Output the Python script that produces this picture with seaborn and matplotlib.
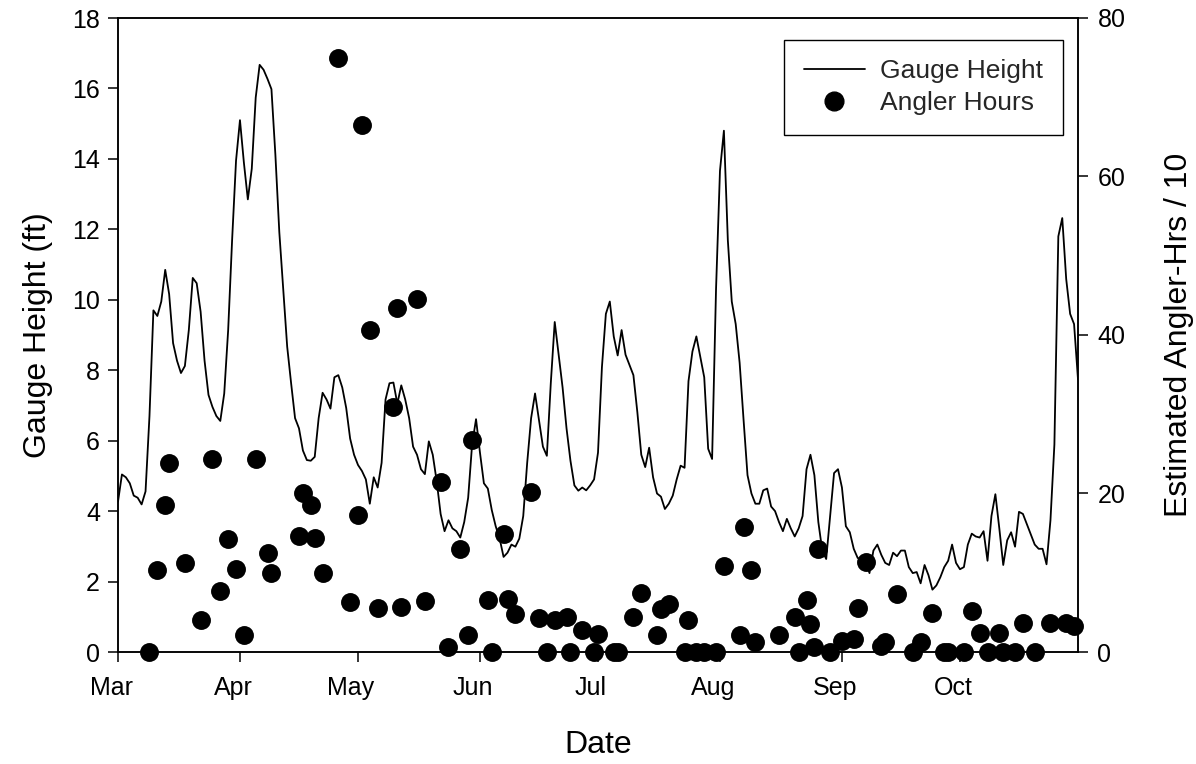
import numpy as np
import pandas as pd
import matplotlib
matplotlib.use("Agg")
import matplotlib.pyplot as plt
import matplotlib.transforms as mtransforms
from matplotlib.lines import Line2D
import seaborn as sns

# Season runs from March 1 through October 31
season_start = pd.Timestamp("2005-03-01")
season_end = pd.Timestamp("2005-10-31")

# Daily mean gauge height (ft), one value per day starting March 1
gauge_height = [
    4.27, 5.04, 4.96, 4.79, 4.44, 4.38, 4.19, 4.56, 6.70, 9.70,
    9.54, 9.95, 10.85, 10.16, 8.77, 8.27, 7.92, 8.12, 9.14, 10.62,
    10.47, 9.66, 8.27, 7.30, 6.96, 6.70, 6.56, 7.34, 9.14, 11.69,
    13.95, 15.10, 13.89, 12.85, 13.72, 15.74, 16.67, 16.53, 16.27, 15.98,
    14.12, 11.92, 10.30, 8.67, 7.63, 6.64, 6.35, 5.72, 5.45, 5.43,
    5.54, 6.64, 7.36, 7.17, 6.91, 7.80, 7.86, 7.51, 6.93, 6.06,
    5.60, 5.31, 5.14, 4.90, 4.21, 4.96, 4.67, 5.37, 7.17, 7.63,
    7.65, 7.05, 7.57, 7.17, 6.64, 5.83, 5.60, 5.19, 5.05, 5.98,
    5.60, 4.85, 3.92, 3.43, 3.74, 3.51, 3.43, 3.25, 3.69, 4.38,
    5.89, 6.61, 5.66, 4.79, 4.64, 4.03, 3.57, 3.22, 2.70, 2.82,
    3.05, 2.99, 3.22, 3.86, 5.37, 6.64, 7.34, 6.59, 5.83, 5.57,
    7.63, 9.37, 8.44, 7.51, 6.35, 5.43, 4.73, 4.58, 4.67, 4.59,
    4.73, 4.90, 5.66, 8.09, 9.60, 9.95, 8.96, 8.42, 9.14, 8.44,
    8.15, 7.86, 6.81, 5.60, 5.25, 5.80, 4.96, 4.50, 4.41, 4.06,
    4.21, 4.44, 4.90, 5.29, 5.23, 7.69, 8.53, 8.96, 8.38, 7.80,
    5.77, 5.48, 10.30, 13.66, 14.80, 11.69, 9.95, 9.31, 8.21, 6.59,
    5.02, 4.50, 4.21, 4.21, 4.59, 4.64, 4.13, 4.00, 3.69, 3.43,
    3.78, 3.51, 3.28, 3.51, 3.86, 5.19, 5.60, 5.02, 3.69, 2.88,
    2.64, 3.86, 5.08, 5.19, 4.67, 3.57, 3.40, 2.93, 2.67, 2.62,
    2.59, 2.24, 2.88, 3.05, 2.76, 2.53, 2.47, 2.82, 2.72, 2.88,
    2.88, 2.41, 2.24, 2.27, 1.95, 2.47, 2.18, 1.77, 1.89, 2.12,
    2.41, 2.59, 3.05, 2.53, 2.35, 2.41, 3.05, 3.36, 3.28, 3.25,
    3.43, 2.59, 3.86, 4.48, 3.51, 2.47, 3.17, 3.40, 2.99, 3.98,
    3.92, 3.63, 3.34, 3.05, 2.93, 2.93, 2.49, 3.74, 5.89, 11.80,
    12.32, 10.59, 9.60, 9.31, 7.74,
]

# Survey days (days after March 1) and estimated angler-hours / 10
angler_day = [
    8, 10, 12, 13, 17, 21, 24, 26, 28, 30,
    32, 35, 38, 39, 46, 47, 49, 50, 52, 56,
    59, 61, 62, 64, 66, 70, 71, 72, 76, 78,
    82, 84, 87, 89, 90, 94, 95, 98, 99, 101,
    105, 107, 109, 111, 114, 115, 118, 121, 122, 126,
    127, 131, 133, 137, 138, 140, 144, 145, 147, 149,
    152, 154, 158, 159, 161, 162, 168, 172, 173, 175,
    176, 177, 178, 181, 184, 187, 188, 190, 194, 195,
    198, 202, 204, 207, 210, 211, 215, 217, 219, 221,
    224, 225, 228, 230, 233, 237, 241, 243,
]
angler_hours = [
    0.0, 10.3, 18.5, 23.8, 11.2, 4.0, 24.4, 7.7, 14.3, 10.5,
    2.2, 24.4, 12.5, 10.0, 14.6, 20.1, 18.5, 14.4, 10.0, 74.9,
    6.3, 17.3, 66.5, 40.6, 5.6, 30.9, 43.4, 5.7, 44.5, 6.4,
    21.5, 0.6, 13.0, 2.2, 26.7, 6.5, 0.0, 14.9, 6.7, 4.8,
    20.2, 4.3, 0.0, 4.1, 4.4, 0.0, 2.8, 0.0, 2.3, 0.0,
    0.0, 4.4, 7.4, 2.1, 5.4, 6.1, 0.0, 4.1, 0.0, 0.0,
    0.0, 10.9, 2.2, 15.8, 10.3, 1.3, 2.2, 4.4, 0.0, 6.6,
    3.5, 0.6, 13.0, 0.0, 1.4, 1.6, 5.5, 11.3, 0.8, 1.3,
    7.3, 0.0, 1.2, 4.9, 0.0, 0.0, 0.0, 5.2, 2.4, 0.0,
    2.4, 0.0, 0.0, 3.7, 0.0, 3.7, 3.7, 3.3,
]

month_labels = ["Mar", "Apr", "May", "Jun", "Jul", "Aug", "Sep", "Oct"]
gauge_ticks = list(range(0, 19, 2))
angler_ticks = list(range(0, 81, 20))

gauge = pd.DataFrame({
    "date": pd.date_range(season_start, periods=len(gauge_height), freq="D"),
    "height": gauge_height,
})
angler = pd.DataFrame({
    "date": season_start + pd.to_timedelta(angler_day, unit="D"),
    "hours": angler_hours,
})

sns.set_theme(style="ticks")
plt.rcParams["font.family"] = ["Liberation Sans", "DejaVu Sans"]
plt.rcParams["axes.edgecolor"] = "black"
plt.rcParams["axes.linewidth"] = 1.1

fig = plt.figure(figsize=(11.96, 7.64), dpi=100)
ax = fig.add_axes([118 / 1196, 1 - 652 / 764, 960 / 1196, 634 / 764])

sns.lineplot(data=gauge, x="date", y="height", color="black", linewidth=1.3,
             ax=ax, legend=False)

ax2 = ax.twinx()
sns.scatterplot(data=angler, x="date", y="hours", color="black", s=185,
                linewidth=0, ax=ax2, legend=False, clip_on=False, zorder=5)

# Tick marks at each month boundary
month_starts = pd.date_range(season_start, season_end, freq="MS")
ax.set_xticks(month_starts, labels=month_labels)
ax.set_xlim(season_start, season_end)
ax.set_ylim(0, 18)
ax2.set_ylim(0, 80)
ax.set_yticks(gauge_ticks)
ax2.set_yticks(angler_ticks)

ax.tick_params(axis="x", direction="out", length=7, width=1.1, labelsize=18,
               pad=10, colors="black")
ax.tick_params(axis="y", direction="out", length=7, width=1.1, labelsize=18, pad=6,
               colors="black")
ax2.tick_params(axis="y", direction="out", length=7, width=1.1, labelsize=18, pad=7,
                colors="black")

# Month names sit a little to the left of their tick marks
shift = mtransforms.ScaledTranslation(-7 / 100, 0, fig.dpi_scale_trans)
for lbl in ax.get_xticklabels():
    lbl.set_transform(lbl.get_transform() + shift)

ax.set_xlabel("Date", fontsize=23, labelpad=22, color="black")
ax.set_ylabel("Gauge Height (ft)", fontsize=23, labelpad=14, color="black")
ax2.set_ylabel("Estimated Angler-Hrs / 10", fontsize=23, labelpad=28, color="black")

for a in (ax, ax2):
    for side in ("top", "right", "bottom", "left"):
        a.spines[side].set_visible(True)
        a.spines[side].set_color("black")
        a.spines[side].set_linewidth(1.1)

handles = [
    Line2D([], [], color="black", linewidth=1.3),
    Line2D([], [], color="black", marker="o", linestyle="", markersize=13.5),
]
leg = ax2.legend(handles, ["Gauge Height", "Angler Hours"], loc="upper right",
                 bbox_to_anchor=(0.984, 0.966), fontsize=19, frameon=True,
                 fancybox=False, framealpha=1, edgecolor="black",
                 handlelength=2.3, handletextpad=0.57, borderpad=0.75,
                 labelspacing=0.3, borderaxespad=0)
leg.get_frame().set_linewidth(1.0)

fig.savefig("out.png", dpi=100, facecolor="white")
